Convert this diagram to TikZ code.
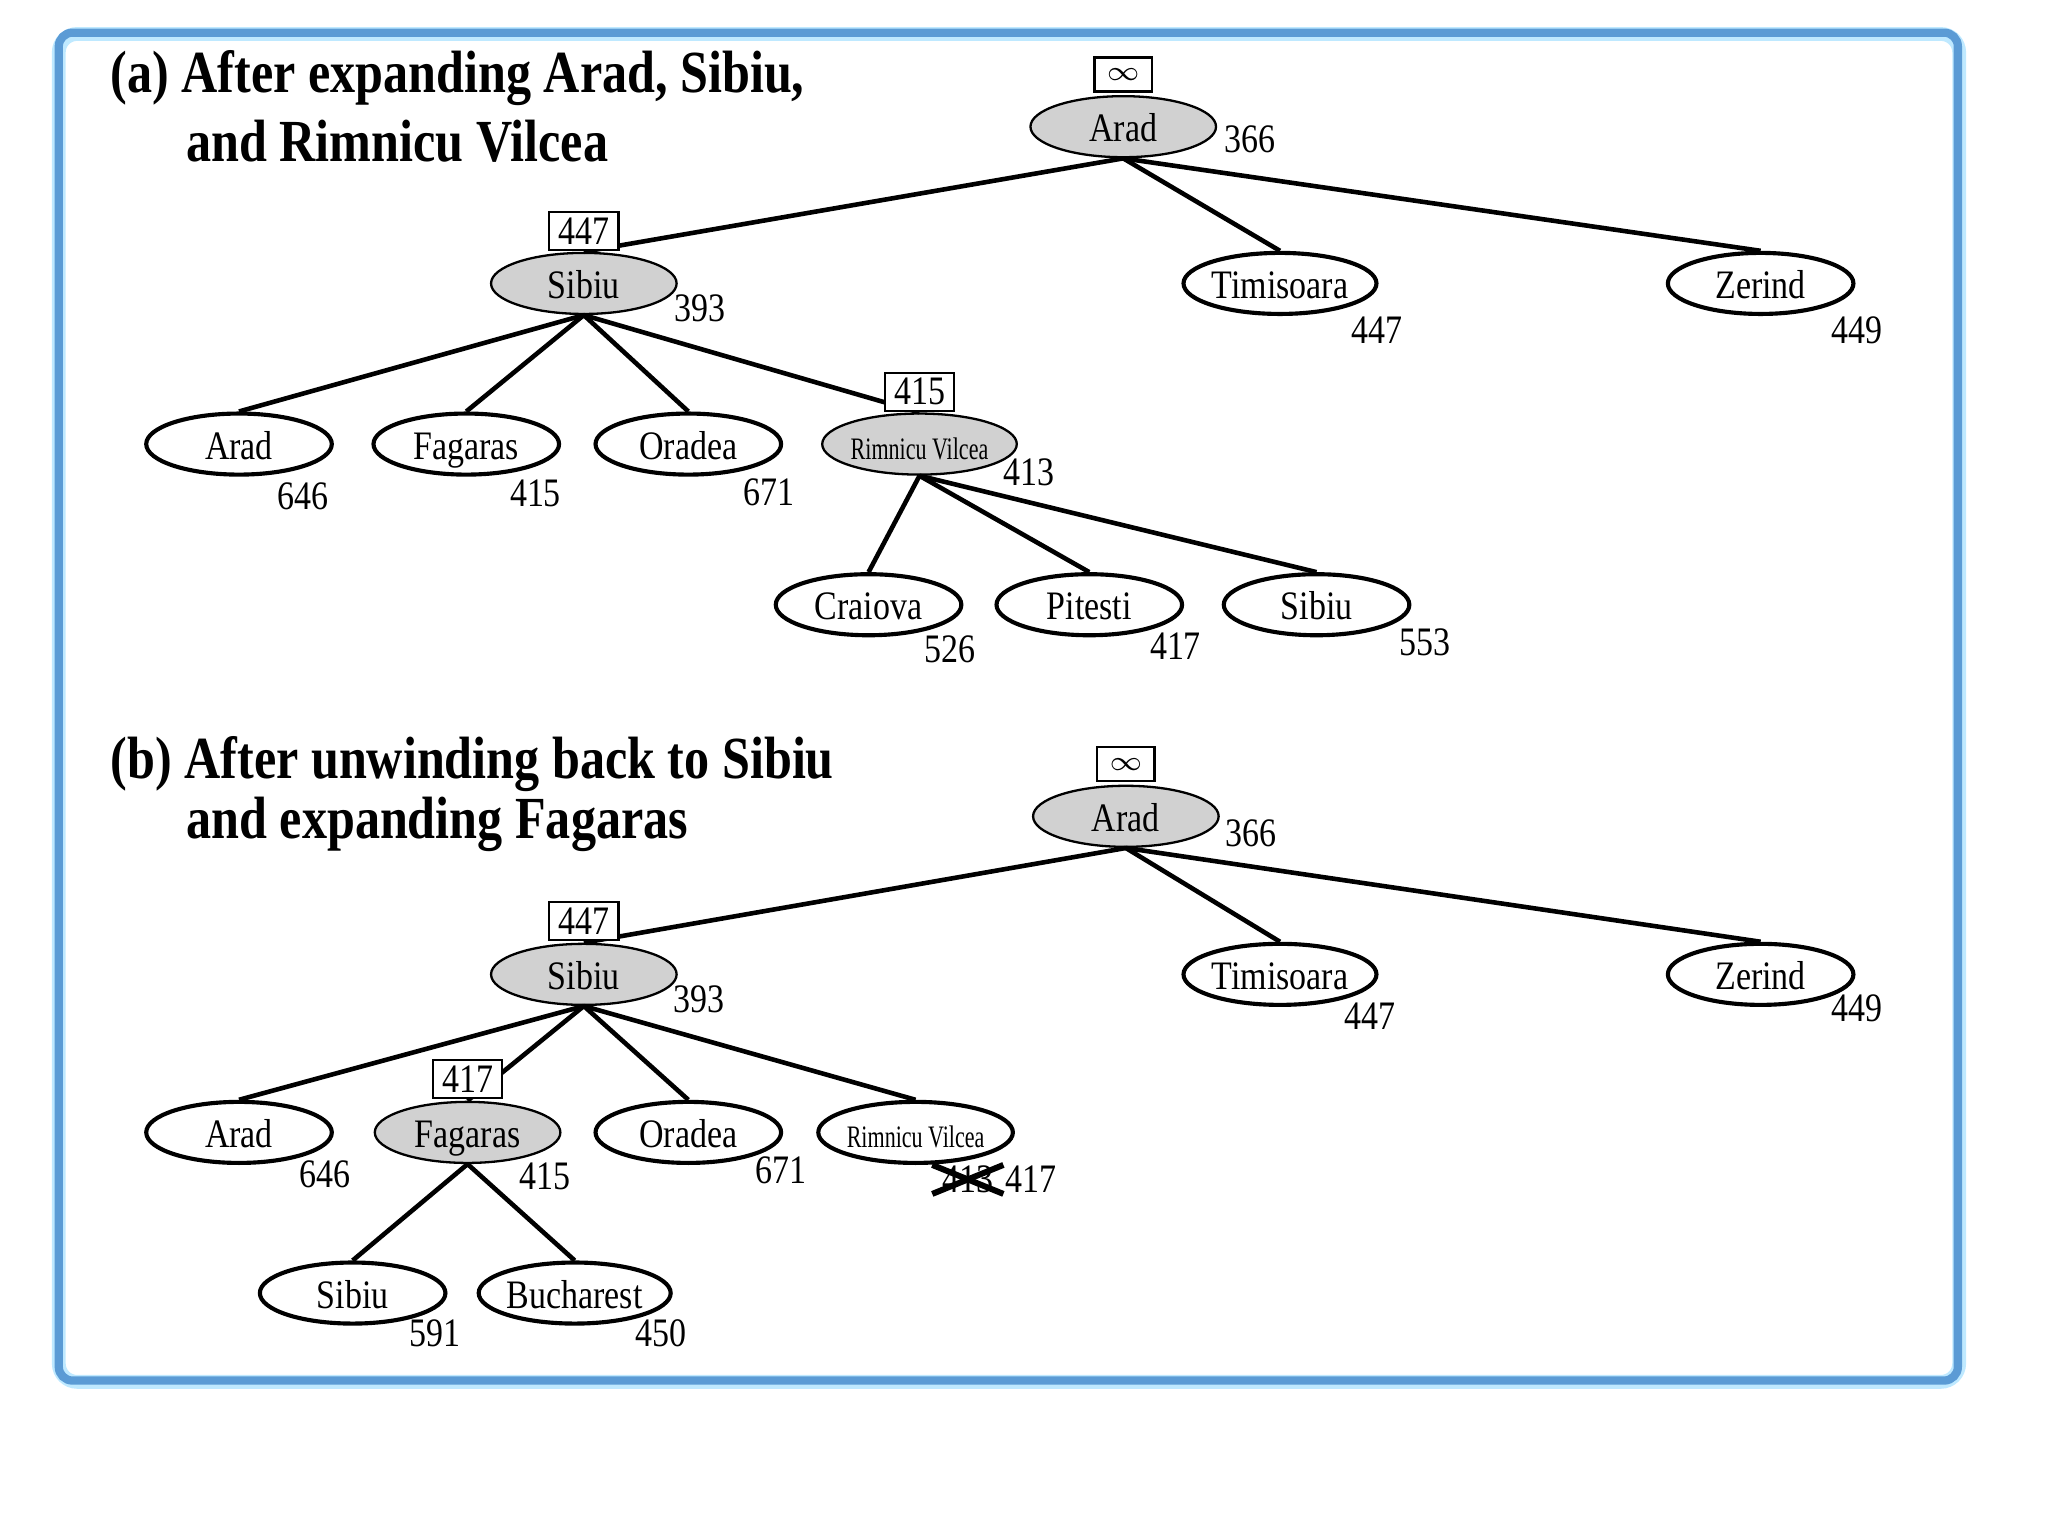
\documentclass[tikz,border=0pt]{standalone}
\usepackage{fontspec}
\setmainfont[FakeStretch=0.84]{Liberation Serif}
\usetikzlibrary{shapes.geometric}

\begin{document}
\begin{tikzpicture}[x=0.01cm, y=-0.01cm, font=\fontsize{8.8}{10}\selectfont,
    city/.style={ellipse, draw, line width=0.9pt, fill=white, inner sep=0pt,
      minimum width=1.42cm, minimum height=0.46cm, text height=0.8em, text depth=0.14em},
    open/.style={city, fill=black!18, line width=0.5pt},
    small/.style={font=\fontsize{6.8}{8}\selectfont},
    fbox/.style={draw, line width=0.5pt, fill=white, inner xsep=0.07cm, inner ysep=0pt,
      minimum height=0.29cm},
    val/.style={inner sep=0pt},
    edge/.style={line width=1pt},
    ttl/.style={font=\fontsize{13}{15}\selectfont\bfseries, anchor=west, inner sep=0pt}]
  \useasboundingbox (0,0) rectangle (1568,1176);
  \draw[line width=3pt, color=blue!35!cyan!25!white, rounded corners=4pt] (45,26) rectangle (1500,1058);
  \draw[line width=1.8pt, color={rgb,255:red,91;green,155;blue,213}, rounded corners=3pt] (45,25) rectangle (1499,1057);

  % (a)
  \node[ttl] (aT1) at (84,60) {(a) After expanding Arad, Sibiu,};
  \node[ttl] (aT2) at (142,108) {and Rimnicu Vilcea};

  \node[open] (aArad) at (860,97) {Arad};
  \node[open] (aSibiu) at (447,217) {Sibiu};
  \node[city] (aTimisoara) at (980,217) {Timisoara};
  \node[city] (aZerind) at (1348,217) {Zerind};
  \node[city] (aArad2) at (183,340) {Arad};
  \node[city] (aFagaras) at (357,340) {Fagaras};
  \node[city] (aOradea) at (527,340) {Oradea};
  \node[open, small] (aRimnicu) at (704,340) {\scalebox{0.84}[1]{Rimnicu Vilcea}};
  \node[city] (aCraiova) at (665,463) {Craiova};
  \node[city] (aPitesti) at (834,463) {Pitesti};
  \node[city] (aSibiu2) at (1008,463) {Sibiu};

  \draw[edge] (aArad.south) -- (aSibiu.north);
  \draw[edge] (aArad.south) -- (aTimisoara.north);
  \draw[edge] (aArad.south) -- (aZerind.north);
  \draw[edge] (aSibiu.south) -- (aArad2.north);
  \draw[edge] (aSibiu.south) -- (aFagaras.north);
  \draw[edge] (aSibiu.south) -- (aOradea.north);
  \draw[edge] (aSibiu.south) -- (aRimnicu.north);
  \draw[edge] (aRimnicu.south) -- (aCraiova.north);
  \draw[edge] (aRimnicu.south) -- (aPitesti.north);
  \draw[edge] (aRimnicu.south) -- (aSibiu2.north);

  \node[fbox, minimum width=0.44cm, minimum height=0.26cm, inner sep=0pt] (aAradf) at (860,57) {$\scriptstyle\infty$};
  \node[fbox] (aSibiuf) at (447,177) {447};
  \node[fbox] (aRimnicuf) at (704,300) {415};

  \node[val] (aAradv) at (957,107) {366};
  \node[val] (aSibiuv) at (536,236) {393};
  \node[val] (aTimisoarav) at (1054,253) {447};
  \node[val] (aZerindv) at (1422,253) {449};
  \node[val] (aArad2v) at (232,380) {646};
  \node[val] (aFagarasv) at (410,378) {415};
  \node[val] (aOradeav) at (589,377) {671};
  \node[val] (aRimnicuv) at (788,362) {413};
  \node[val] (aCraiovav) at (727,497) {526};
  \node[val] (aPitestiv) at (900,495) {417};
  \node[val] (aSibiu2v) at (1091,492) {553};

  % (b)
  \node[ttl] (bT1) at (84,585) {(b) After unwinding back to Sibiu};
  \node[ttl] (bT2) at (142,631) {and expanding Fagaras};

  \node[open] (bArad) at (862,625) {Arad};
  \node[open] (bSibiu) at (447,746) {Sibiu};
  \node[city] (bTimisoara) at (980,746) {Timisoara};
  \node[city] (bZerind) at (1348,746) {Zerind};
  \node[city] (bArad2) at (183,867) {Arad};
  \node[open] (bFagaras) at (358,867) {Fagaras};
  \node[city] (bOradea) at (527,867) {Oradea};
  \node[city, small] (bRimnicu) at (701,867) {\scalebox{0.84}[1]{Rimnicu Vilcea}};
  \node[city] (bSibiu2) at (270,990) {Sibiu};
  \node[city] (bBucharest) at (440,990) {Bucharest};

  \draw[edge] (bArad.south) -- (bSibiu.north);
  \draw[edge] (bArad.south) -- (bTimisoara.north);
  \draw[edge] (bArad.south) -- (bZerind.north);
  \draw[edge] (bSibiu.south) -- (bArad2.north);
  \draw[edge] (bSibiu.south) -- (bFagaras.north);
  \draw[edge] (bSibiu.south) -- (bOradea.north);
  \draw[edge] (bSibiu.south) -- (bRimnicu.north);
  \draw[edge] (bFagaras.south) -- (bSibiu2.north);
  \draw[edge] (bFagaras.south) -- (bBucharest.north);

  \node[fbox, minimum width=0.44cm, minimum height=0.26cm, inner sep=0pt] (bAradf) at (862,585) {$\scriptstyle\infty$};
  \node[fbox] (bSibiuf) at (447,705) {447};
  \node[fbox] (bFagarasf) at (358,826) {417};

  \node[val] (bAradv) at (958,638) {366};
  \node[val] (bSibiuv) at (535,765) {393};
  \node[val] (bTimisoarav) at (1049,778) {447};
  \node[val] (bZerindv) at (1422,772) {449};
  \node[val] (bArad2v) at (249,899) {646};
  \node[val] (bFagarasv) at (417,901) {415};
  \node[val] (bOradeav) at (598,896) {671};
  \node[val] (bRimnicuold) at (741,903) {413};
  \node[val] (bRimnicuv) at (789,903) {417};
  \node[val] (bSibiu2v) at (333,1021) {591};
  \node[val] (bBucharestv) at (506,1021) {450};

  % crossed-out old value
  \draw[line width=1.3pt] ([xshift=-2pt]bRimnicuold.south west) -- ([xshift=2pt]bRimnicuold.north east);
  \draw[line width=1.3pt] ([xshift=-2pt]bRimnicuold.north west) -- ([xshift=2pt]bRimnicuold.south east);
\end{tikzpicture}
\end{document}
